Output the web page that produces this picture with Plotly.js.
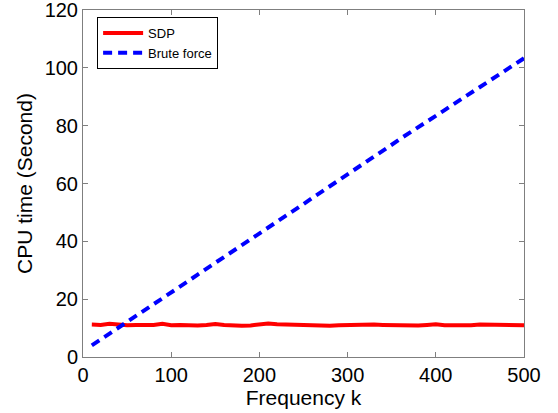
<!DOCTYPE html>
<html>
<head>
<meta charset="utf-8">
<script src="https://cdn.plot.ly/plotly-3.0.1.min.js"></script>
<style>html,body{margin:0;padding:0;background:#fff;}#chart{width:558px;height:413px;}</style>
</head>
<body>
<div id="chart"></div>
<script>
const freq = [10,20,30,40,50,60,70,80,90,100,110,120,130,140,150,160,170,180,190,200,210,220,230,240,250,260,270,280,290,300,310,320,330,340,350,360,370,380,390,400,410,420,430,440,450,460,470,480,490,500];
const sdpTime = [11.2,11.1,11.5,11.2,11.0,11.1,11.0,11.1,11.5,11.0,11.1,10.9,10.9,11.1,11.4,11.1,10.8,10.8,10.9,11.1,11.6,11.3,11.2,11.0,11.1,10.9,11.0,10.8,11.0,11.1,11.1,11.2,11.2,11.1,11.0,11.2,11.0,10.9,11.1,11.3,11.0,10.9,10.9,11.0,11.2,11.1,11.0,11.0,11.1,11.0];
const bruteTime = [4.0,6.0,8.1,10.1,12.2,14.2,16.3,18.2,20.3,22.3,24.4,26.4,28.5,30.5,32.5,34.6,36.6,38.7,40.6,42.7,44.8,46.8,48.9,50.9,52.9,55.0,57.0,59.2,61.0,63.0,65.1,67.2,69.3,71.3,73.4,75.5,77.4,79.4,81.4,83.4,85.4,87.4,89.4,91.4,93.4,95.5,97.5,99.5,101.4,103.3];
const seriesNames = ["SDP","Brute force"];
const xTicks = [0,100,200,300,400,500];
const yTicks = [0,20,40,60,80,100,120];

const font = "Liberation Sans, Arial, sans-serif";
const axisColor = "#7f7f7f";

const traces = [
  {x: freq, y: sdpTime, name: seriesNames[0], mode: "lines", line: {color: "#ff0000", width: 4}},
  {x: freq, y: bruteTime, name: seriesNames[1], mode: "lines", line: {color: "#0000ff", width: 4, dash: "9px,6px"}}
];

const axisBase = {
  showgrid: false, zeroline: false, showline: true, linecolor: axisColor, linewidth: 1,
  mirror: "ticks", ticks: "inside", ticklen: 5, tickcolor: axisColor, tickwidth: 1,
  ticklabeloverflow: "allow",
  tickfont: {family: font, size: 20, color: "#000"}
};

const layout = {
  width: 558, height: 413,
  margin: {l: 83, r: 34, t: 10, b: 56},
  paper_bgcolor: "#fff", plot_bgcolor: "#fff",
  showlegend: true,
  legend: {x: 0.032, y: 0.98, xanchor: "left", yanchor: "top", bgcolor: "#fff",
           bordercolor: "#000", borderwidth: 1, font: {family: font, size: 13, color: "#000"},
           tracegroupgap: 0, itemwidth: 40},
  xaxis: Object.assign({}, axisBase, {range: [0, 500], tickvals: xTicks,
    title: {text: "Frequency k", font: {family: font, size: 21, color: "#000"}, standoff: 2}}),
  yaxis: Object.assign({}, axisBase, {range: [0, 120], tickvals: yTicks,
    title: {text: "CPU time (Second)", font: {family: font, size: 21, color: "#000"}, standoff: 6}})
};

Plotly.newPlot("chart", traces, layout, {displayModeBar: false, staticPlot: true});
</script>
</body>
</html>
